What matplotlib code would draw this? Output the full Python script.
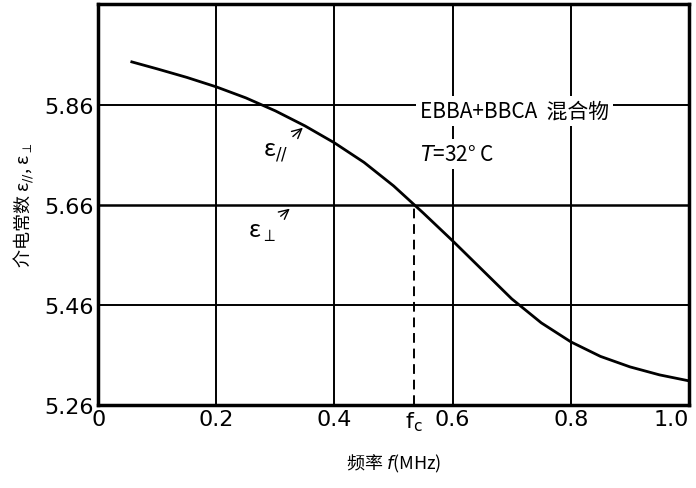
import matplotlib.pyplot as plt
import numpy as np

plt.rcParams['font.family'] = ['Noto Sans CJK SC', 'DejaVu Sans']

# data
freq = [0.057, 0.1, 0.15, 0.2, 0.25, 0.3, 0.35, 0.4, 0.45, 0.5, 0.55, 0.6,
        0.65, 0.7, 0.75, 0.8, 0.85, 0.9, 0.95, 1.0]
eps_par = [5.946, 5.932, 5.915, 5.896, 5.874, 5.848, 5.818, 5.784, 5.745, 5.698, 5.644, 5.588,
           5.530, 5.472, 5.424, 5.386, 5.357, 5.336, 5.32, 5.308]
eps_perp = 5.66
fc = 0.535
xticks = [0, 0.2, 0.4, fc, 0.6, 0.8, 1.0]
xlabels = ['0', '0.2', '0.4', r'$\mathregular{f_c}$', '0.6', '0.8', '1.0']
yticks = [5.26, 5.46, 5.66, 5.86]

fig = plt.figure(figsize=(6.96, 4.89), dpi=100)
ax = fig.add_axes([0.141, 0.170, 0.849, 0.820])

# grid
for x in [0.2, 0.4, 0.6, 0.8]:
    ax.axvline(x, color='black', lw=1.4, zorder=1)
for y in [5.86, 5.46]:
    ax.axhline(y, color='black', lw=1.4, zorder=1)

ax.plot(freq, eps_par, color='black', lw=2, zorder=3)
ax.axhline(eps_perp, color='black', lw=1.8, zorder=3)
ax.plot([fc, fc], [5.26, eps_perp], color='black', lw=1.4, ls=(0, (5, 3)), zorder=3)

ax.set_xlim(0, 1.0)
ax.set_ylim(5.26, 6.062)
ax.set_xticks(xticks)
ax.set_xticklabels(xlabels, family='DejaVu Sans')
ax.get_xticklabels()[-1].set_ha('right')
ax.get_xticklabels()[-1].set_x(0.995)
ax.set_yticks(yticks)
ax.set_yticklabels(['%.2f' % v for v in yticks], family='DejaVu Sans')
ax.tick_params(length=0, labelsize=16, pad=3)
for s in ax.spines.values():
    s.set_linewidth(2.5)

ax.text(0.545, 5.848, 'EBBA+BBCA  混合物', fontsize=15, va='center', ha='left',
        bbox=dict(facecolor='white', edgecolor='none', pad=3), zorder=4)
ax.text(0.545, 5.762, '$T$=32° C', fontsize=15, va='center', ha='left',
        bbox=dict(facecolor='white', edgecolor='none', pad=3), zorder=4)

ax.annotate('ε$_{//}$', xy=(0.35, 5.818), xytext=(0.30, 5.766), fontsize=17,
            ha='center', va='center',
            arrowprops=dict(arrowstyle='->', color='black', lw=1))
ax.annotate('ε$_{\\perp}$', xy=(0.328, 5.656), xytext=(0.277, 5.606), fontsize=17,
            ha='center', va='center',
            arrowprops=dict(arrowstyle='->', color='black', lw=1))

ax.set_ylabel('介电常数 ε$_{//}$, ε$_{\\perp}$', fontsize=13, labelpad=6)
ax.set_xlabel('频率 $f$(MHz)', fontsize=13, labelpad=14)

fig.savefig('out.png', dpi=100)
